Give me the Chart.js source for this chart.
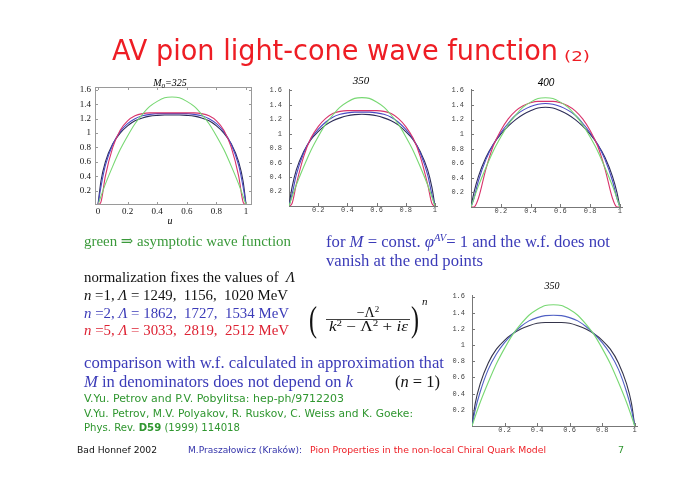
<!DOCTYPE html>
<html><head><meta charset="utf-8">
<script src="https://cdn.jsdelivr.net/npm/chart.js@4.4.1/dist/chart.umd.min.js"></script>
<style>
html,body{margin:0;padding:0;background:#fff;width:700px;height:494px;overflow:hidden;}
canvas{position:absolute;}
#txt{position:absolute;left:0;top:0;pointer-events:none;}
#txt text{white-space:pre;}
.s{font-family:"Liberation Serif","DejaVu Serif",serif;}
.c{font-family:"DejaVu Sans",sans-serif;}
</style></head><body>
<canvas id="c1" width="200" height="160" style="left:60px;top:70px"></canvas>
<canvas id="c2" width="195" height="150" style="left:255px;top:75px"></canvas>
<canvas id="c3" width="195" height="150" style="left:440px;top:75px"></canvas>
<canvas id="c4" width="205" height="160" style="left:440px;top:280px"></canvas>

<svg id="txt" width="700" height="494" xmlns="http://www.w3.org/2000/svg">
<text class="c" x="112" y="60" font-size="27.5" fill="#ee1d24" textLength="446" lengthAdjust="spacingAndGlyphs">AV pion light-cone wave function</text>
<text class="c" x="564" y="61" font-size="14" fill="#ee1d24" textLength="26" lengthAdjust="spacingAndGlyphs">(2)</text>

<text class="s" x="170" y="86" text-anchor="middle" font-size="10" font-style="italic" fill="#000">M<tspan dy="2" font-size="7">0</tspan><tspan dy="-2">=325</tspan></text>
<text class="s" x="170" y="224" text-anchor="middle" font-size="10" font-style="italic" fill="#000">u</text>
<text class="s" x="361" y="84" text-anchor="middle" font-size="11" font-style="italic" fill="#000">350</text>
<text x="546" y="86" text-anchor="middle" font-size="10" font-style="italic" font-family="Liberation Sans,Arial,sans-serif" fill="#000">400</text>
<text class="s" x="552" y="289" text-anchor="middle" font-size="10" font-style="italic" fill="#000">350</text>

<text class="s" x="84" y="246" font-size="15.5" fill="#3a993a" textLength="207" lengthAdjust="spacingAndGlyphs">green ⇒ asymptotic wave function</text>
<text class="s" x="326" y="247" font-size="16" fill="#3b3bb8" textLength="284" lengthAdjust="spacingAndGlyphs">for <tspan font-style="italic">M</tspan> = const. <tspan font-style="italic">φ</tspan><tspan dy="-6" font-size="10" font-style="italic">AV</tspan><tspan dy="6">= 1 and the w.f. does not</tspan></text>
<text class="s" x="326" y="266" font-size="16" fill="#3b3bb8" textLength="157" lengthAdjust="spacingAndGlyphs">vanish at the end points</text>

<text class="s" x="84" y="282" font-size="15.5" fill="#111" textLength="211" lengthAdjust="spacingAndGlyphs">normalization fixes the values of  <tspan font-style="italic">Λ</tspan></text>
<text class="s" x="84" y="300" font-size="15.5" fill="#111" textLength="204" lengthAdjust="spacingAndGlyphs"><tspan font-style="italic">n</tspan> =1, <tspan font-style="italic">Λ</tspan> = 1249,  1156,  1020 MeV</text>
<text class="s" x="84" y="317.5" font-size="15.5" fill="#3b3bb8" textLength="205" lengthAdjust="spacingAndGlyphs"><tspan font-style="italic">n</tspan> =2, <tspan font-style="italic">Λ</tspan> = 1862,  1727,  1534 MeV</text>
<text class="s" x="84" y="335" font-size="15.5" fill="#dd2233" textLength="205" lengthAdjust="spacingAndGlyphs"><tspan font-style="italic">n</tspan> =5, <tspan font-style="italic">Λ</tspan> = 3033,  2819,  2512 MeV</text>

<text class="s" x="309" y="331" font-size="36" fill="#111" textLength="8" lengthAdjust="spacingAndGlyphs">(</text>
<text class="s" x="368" y="317" text-anchor="middle" font-size="14" fill="#111">−Λ<tspan dy="-5" font-size="9">2</tspan></text>
<line x1="326" y1="319.5" x2="410" y2="319.5" stroke="#111" stroke-width="0.8"/>
<text class="s" x="329" y="330.5" font-size="14" fill="#111" textLength="79" lengthAdjust="spacingAndGlyphs"><tspan font-style="italic">k</tspan><tspan dy="-5" font-size="9">2</tspan><tspan dy="5"> − Λ</tspan><tspan dy="-5" font-size="9">2</tspan><tspan dy="5"> + </tspan><tspan font-style="italic">iε</tspan></text>
<text class="s" x="411" y="331" font-size="36" fill="#111" textLength="8" lengthAdjust="spacingAndGlyphs">)</text>
<text class="s" x="422" y="305" font-size="11" font-style="italic" fill="#111">n</text>

<text class="s" x="84" y="367.5" font-size="16.5" fill="#3b3bb8" textLength="360" lengthAdjust="spacingAndGlyphs">comparison with w.f. calculated in approximation that</text>
<text class="s" x="84" y="386.5" font-size="16.5" fill="#3b3bb8" textLength="269" lengthAdjust="spacingAndGlyphs"><tspan font-style="italic">M</tspan> in denominators does not depend on <tspan font-style="italic">k</tspan></text>
<text class="s" x="395" y="386.5" font-size="16.5" fill="#111" textLength="45" lengthAdjust="spacingAndGlyphs">(<tspan font-style="italic">n</tspan> = 1)</text>

<text class="c" x="84" y="402.3" font-size="10" fill="#2f962f" textLength="260" lengthAdjust="spacingAndGlyphs">V.Yu. Petrov and P.V. Pobylitsa: hep-ph/9712203</text>
<text class="c" x="84" y="417.3" font-size="10" fill="#2f962f" textLength="329" lengthAdjust="spacingAndGlyphs">V.Yu. Petrov, M.V. Polyakov, R. Ruskov, C. Weiss and K. Goeke:</text>
<text class="c" x="84" y="430.5" font-size="10" fill="#2f962f" textLength="156" lengthAdjust="spacingAndGlyphs">Phys. Rev. <tspan font-weight="bold">D59</tspan> (1999) 114018</text>

<text class="c" x="77" y="453.3" font-size="9.5" fill="#111" textLength="80" lengthAdjust="spacingAndGlyphs">Bad Honnef 2002</text>
<text class="c" x="188" y="453.3" font-size="9.5" fill="#3333aa" textLength="114" lengthAdjust="spacingAndGlyphs">M.Praszałowicz (Kraków):</text>
<text class="c" x="310" y="453.3" font-size="9.5" fill="#ee1d24" textLength="236" lengthAdjust="spacingAndGlyphs">Pion Properties in the non-local Chiral Quark Model</text>
<text class="c" x="618" y="453.3" font-size="9.5" fill="#2f962f">7</text>
</svg>

<script>
// ---- data ----
const U = [0, 0.02, 0.05, 0.1, 0.15, 0.2, 0.25, 0.3, 0.35, 0.4, 0.45, 0.5, 0.55, 0.6, 0.65, 0.7, 0.75, 0.8, 0.85, 0.9, 0.95, 0.98, 1];

const ASYMPTOTIC = [0, 0.12, 0.29, 0.54, 0.77, 0.96, 1.13, 1.26, 1.37, 1.44, 1.49, 1.5, 1.49, 1.44, 1.37, 1.26, 1.13, 0.96, 0.77, 0.54, 0.29, 0.12, 0];

// M0 = 325
const M325_N1 = [0, 0.33, 0.6, 0.85, 1.0, 1.1, 1.17, 1.21, 1.235, 1.245, 1.25, 1.25, 1.25, 1.245, 1.235, 1.21, 1.17, 1.1, 1.0, 0.85, 0.6, 0.33, 0];
const M325_N2 = [0, 0.25, 0.55, 0.84, 1.02, 1.13, 1.2, 1.24, 1.26, 1.27, 1.27, 1.27, 1.27, 1.27, 1.26, 1.24, 1.2, 1.13, 1.02, 0.84, 0.55, 0.25, 0];
const M325_N5 = [0, 0.04, 0.4, 0.8, 1.04, 1.17, 1.24, 1.27, 1.28, 1.28, 1.28, 1.28, 1.28, 1.28, 1.28, 1.27, 1.24, 1.17, 1.04, 0.8, 0.4, 0.04, 0];

// M0 = 350
const M350_N1 = [0, 0.25, 0.5, 0.75, 0.92, 1.03, 1.12, 1.18, 1.22, 1.25, 1.265, 1.27, 1.265, 1.25, 1.22, 1.18, 1.12, 1.03, 0.92, 0.75, 0.5, 0.25, 0];
const M350_N2 = [0, 0.15, 0.43, 0.73, 0.93, 1.06, 1.16, 1.23, 1.27, 1.29, 1.3, 1.3, 1.3, 1.29, 1.27, 1.23, 1.16, 1.06, 0.93, 0.73, 0.43, 0.15, 0];
const M350_N5 = [0, 0.03, 0.3, 0.68, 0.94, 1.1, 1.21, 1.28, 1.31, 1.32, 1.32, 1.32, 1.32, 1.32, 1.31, 1.28, 1.21, 1.1, 0.94, 0.68, 0.3, 0.03, 0];

// M0 = 400
const M400_N1 = [0, 0.2, 0.42, 0.68, 0.86, 1.0, 1.11, 1.2, 1.27, 1.32, 1.36, 1.37, 1.36, 1.32, 1.27, 1.2, 1.11, 1.0, 0.86, 0.68, 0.42, 0.2, 0];
const M400_N2 = [0, 0.12, 0.36, 0.65, 0.86, 1.02, 1.15, 1.26, 1.33, 1.38, 1.41, 1.42, 1.41, 1.38, 1.33, 1.26, 1.15, 1.02, 0.86, 0.65, 0.36, 0.12, 0];
const M400_N5 = [0, 0, 0.12, 0.52, 0.84, 1.05, 1.21, 1.32, 1.39, 1.43, 1.45, 1.45, 1.45, 1.43, 1.39, 1.32, 1.21, 1.05, 0.84, 0.52, 0.12, 0, 0];

// M0 = 350, n = 1: full vs. k-independent M approximation
const CMP350_FULL   = [0, 0.28, 0.52, 0.78, 0.95, 1.06, 1.14, 1.2, 1.24, 1.27, 1.28, 1.28, 1.28, 1.27, 1.24, 1.2, 1.14, 1.06, 0.95, 0.78, 0.52, 0.28, 0];
const CMP350_APPROX = [0, 0.2, 0.42, 0.7, 0.89, 1.03, 1.14, 1.23, 1.3, 1.34, 1.365, 1.37, 1.365, 1.34, 1.3, 1.23, 1.14, 1.03, 0.89, 0.7, 0.42, 0.2, 0];

const Y_TICK_LABELS = ['0.2', '0.4', '0.6', '0.8', '1', '1.2', '1.4', '1.6'];
const X_TICK_LABELS_FRAME = ['0', '0.2', '0.4', '0.6', '0.8', '1'];
const X_TICK_LABELS_AXES = ['0.2', '0.4', '0.6', '0.8', '1'];

// ---- styles ----
const COL_GREEN = '#78d873';
const COL_N1 = '#2c2c58';
const COL_N2 = '#4a4ac4';
const COL_N5 = '#d8336b';

const innerTicks = {
  id: 'innerTicks',
  afterDatasetsDraw(chart, args, o) {
    const ctx = chart.ctx, a = chart.chartArea, xs = chart.scales.x, ys = chart.scales.y;
    ctx.save();
    ctx.strokeStyle = o.color; ctx.lineWidth = 1;
    const ln = (x1, y1, x2, y2) => { ctx.beginPath(); ctx.moveTo(x1, y1); ctx.lineTo(x2, y2); ctx.stroke(); };
    if (o.frame) ctx.strokeRect(a.left + 0.5, a.top + 0.5, a.right - a.left - 1, a.bottom - a.top - 1);
    xs.ticks.forEach(t => {
      const px = Math.round(xs.getPixelForValue(t.value)) + 0.5;
      ln(px, a.bottom, px, a.bottom - o.len);
      if (o.frame) ln(px, a.top, px, a.top + o.len);
    });
    ys.ticks.forEach(t => {
      const py = Math.round(ys.getPixelForValue(t.value)) + 0.5;
      ln(a.left, py, a.left + o.len, py);
      if (o.frame) ln(a.right, py, a.right - o.len, py);
    });
    ctx.restore();
  }
};

function line(arr, color) {
  return {
    data: U.map((u, i) => ({ x: u, y: arr[i] })),
    borderColor: color, borderWidth: 1.1, pointRadius: 0, fill: false,
    cubicInterpolationMode: 'monotone'
  };
}

function makeChart(id, cfg) {
  const xLabels = cfg.xLabels;
  new Chart(document.getElementById(id), {
    type: 'line',
    data: { datasets: cfg.series },
    plugins: [innerTicks],
    options: {
      responsive: false, animation: false, events: [],
      layout: { padding: cfg.pad },
      plugins: {
        legend: { display: false }, tooltip: { enabled: false }, title: { display: false },
        innerTicks: { frame: cfg.frame, len: 3, color: cfg.frame ? '#9a9a9a' : '#777' }
      },
      scales: {
        x: {
          type: 'linear', min: cfg.xMin, max: cfg.xMax,
          afterFit: s => { s.height = cfg.xH; },
          afterBuildTicks: s => { s.ticks = xLabels.map(v => ({ value: parseFloat(v) })); },
          ticks: { callback: (v, i) => xLabels[i], font: cfg.font, color: cfg.tickColor,
                   padding: cfg.xPad, maxRotation: 0, autoSkip: false },
          grid: { display: false, drawTicks: false },
          border: { display: !cfg.frame, color: '#777', width: 1 }
        },
        y: {
          type: 'linear', min: 0, max: cfg.yMax,
          afterFit: s => { s.width = cfg.yW; },
          afterBuildTicks: s => { s.ticks = Y_TICK_LABELS.map(v => ({ value: parseFloat(v) })); },
          ticks: { callback: (v, i) => Y_TICK_LABELS[i], font: cfg.font, color: cfg.tickColor,
                   padding: cfg.yPad, autoSkip: false },
          grid: { display: false, drawTicks: false },
          border: { display: !cfg.frame, color: '#777', width: 1 }
        }
      }
    }
  });
}

const serifFont = { family: 'Liberation Serif', size: 9 };
const monoFont = { family: 'Liberation Mono', size: 7 };

makeChart('c1', {
  series: [line(ASYMPTOTIC, COL_GREEN), line(M325_N5, COL_N5), line(M325_N2, COL_N2), line(M325_N1, COL_N1)],
  xMin: -0.02, xMax: 1.04, yMax: 1.64, xLabels: X_TICK_LABELS_FRAME, frame: true,
  pad: { left: 0, top: 17, right: 8, bottom: 0 }, yW: 35, xH: 25, xPad: 1, yPad: 4,
  font: serifFont, tickColor: '#111'
});
makeChart('c2', {
  series: [line(ASYMPTOTIC, COL_GREEN), line(M350_N5, COL_N5), line(M350_N2, COL_N2), line(M350_N1, COL_N1)],
  xMin: 0, xMax: 1.014, yMax: 1.62, xLabels: X_TICK_LABELS_AXES, frame: false,
  pad: { left: 0, top: 14, right: 13, bottom: 0 }, yW: 34, xH: 19, xPad: 0, yPad: 7,
  font: monoFont, tickColor: '#444'
});
makeChart('c3', {
  series: [line(ASYMPTOTIC, COL_GREEN), line(M400_N5, COL_N5), line(M400_N2, COL_N2), line(M400_N1, COL_N1)],
  xMin: 0, xMax: 1.014, yMax: 1.62, xLabels: X_TICK_LABELS_AXES, frame: false,
  pad: { left: 0, top: 14, right: 13, bottom: 0 }, yW: 31, xH: 18, xPad: 0, yPad: 7,
  font: monoFont, tickColor: '#444'
});
makeChart('c4', {
  series: [line(ASYMPTOTIC, COL_GREEN), line(CMP350_APPROX, '#5060c4'), line(CMP350_FULL, '#34344a')],
  xMin: 0, xMax: 1.014, yMax: 1.62, xLabels: X_TICK_LABELS_AXES, frame: false,
  pad: { left: 0, top: 15, right: 8, bottom: 0 }, yW: 32, xH: 14, xPad: 0, yPad: 7,
  font: monoFont, tickColor: '#444'
});
</script>
</body></html>
